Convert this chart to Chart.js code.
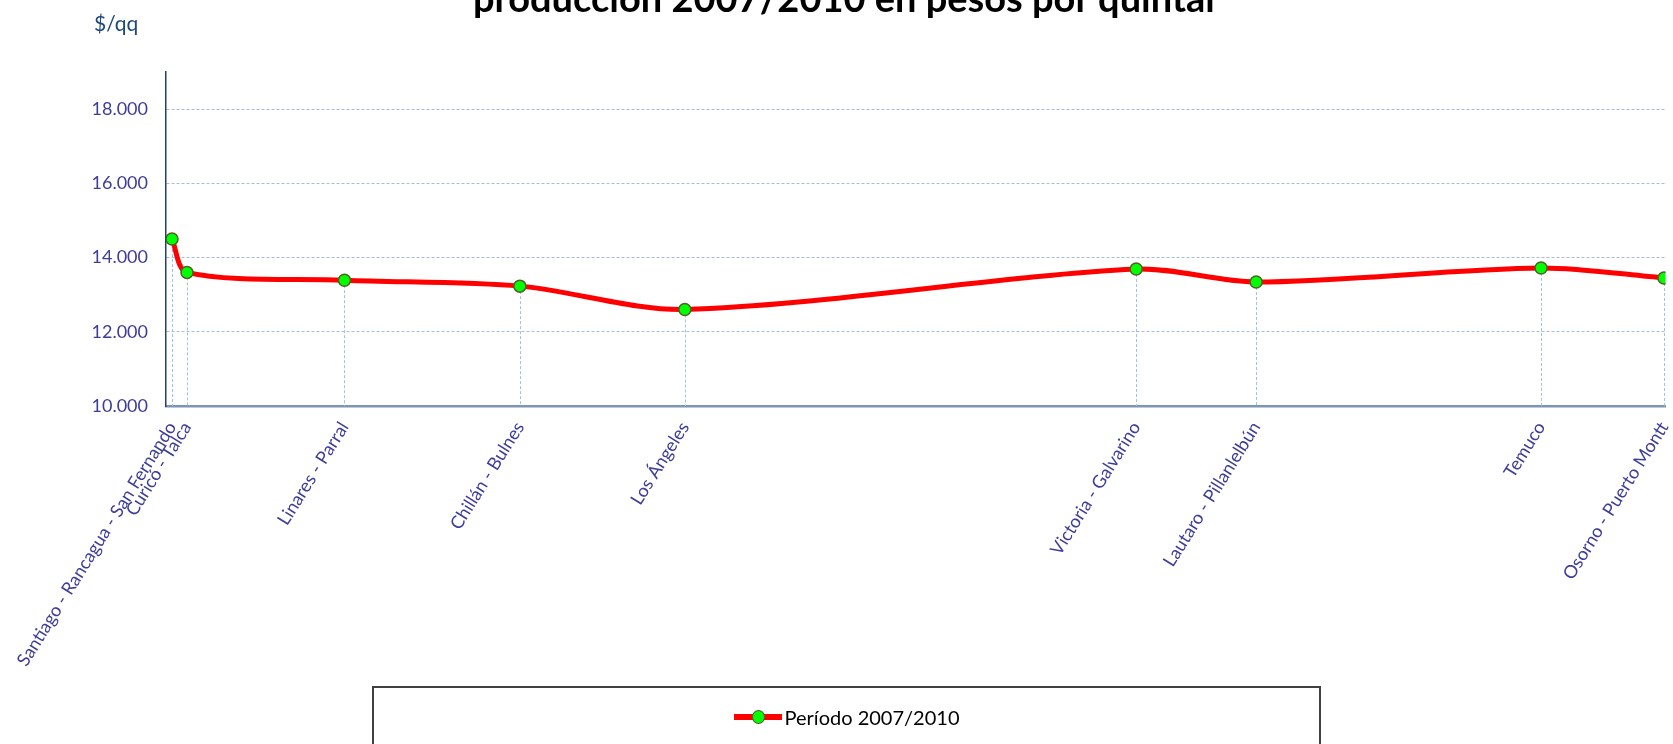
<!DOCTYPE html>
<html>
<head>
<meta charset="utf-8">
<script src="https://cdn.jsdelivr.net/npm/chart.js@4"></script>
<style>
  html, body { margin: 0; padding: 0; background: #fff; overflow: hidden; }
  #wrap { position: relative; width: 1673px; height: 744px; }
  #titulo { position: absolute; left: 473px; top: -22px; font: bold 38px Lato, sans-serif; color: #000; white-space: nowrap; line-height: 38px; }
  #unidad { position: absolute; left: 94px; top: 12px; font: 21px Lato, sans-serif; color: #1F497D; line-height: 22px; }
  #leyenda { position: absolute; left: 372px; top: 686px; width: 945px; height: 80px; border: 2px solid #404040; }
  #leyenda .item { position: absolute; left: 0; right: 0; top: 18px; text-align: center; font: 20px Lato, sans-serif; color: #000; line-height: 22px; }
  #leyenda .marca { display: inline-block; position: relative; width: 48px; height: 22px; vertical-align: top; margin-right: 3px; }
  #leyenda .marca::before { content: ""; position: absolute; left: 0; right: 0; top: 8px; height: 6px; background: #FF0000; }
  #leyenda .marca::after { content: ""; position: absolute; left: 18px; top: 4px; width: 11px; height: 12px; border-radius: 50%; background: #00FF00; border: 1.5px solid #4F6228; }
</style>
</head>
<body>
<div id="wrap">
  <canvas id="grafico" width="1673" height="744"></canvas>
  <div id="titulo">producción 2007/2010 en pesos por quintal</div>
  <div id="unidad">$/qq</div>
  <div id="leyenda"><div class="item"><span class="marca"></span>Período 2007/2010</div></div>
</div>
<script>
// Zonas productoras (eje x)
const zonas = [
    "Santiago - Rancagua - San Fernando",
    "Curicó - Talca",
    "Linares - Parral",
    "Chillán - Bulnes",
    "Los Ángeles",
    "Victoria - Galvarino",
    "Lautaro - Pillanlelbún",
    "Temuco",
    "Osorno - Puerto Montt"
];
// posición de cada zona sobre el eje (escala 0 - 1000)
const posicionEje = [4, 14, 119, 236, 346, 647, 727, 917, 999];
// costo de producción en $/qq
const costos = [14500, 13600, 13390, 13230, 12600, 13690, 13340, 13720, 13450];
const etiquetaSerie = "Período 2007/2010";
const ticksY = [10000, 12000, 14000, 16000, 18000];

const colorTexto = '#3D3D9A';

function formatoMiles(v) {
    return String(v).replace(/\B(?=(\d{3})+(?!\d))/g, '.');
}

// lineas verticales punteadas desde cada punto al eje
const lineasCaida = {
    id: 'lineasCaida',
    beforeDatasetsDraw(chart) {
        const ctx = chart.ctx;
        const fondo = chart.chartArea.bottom;
        const meta = chart.getDatasetMeta(0);
        ctx.save();
        ctx.strokeStyle = '#9DC3E6';
        ctx.lineWidth = 1;
        ctx.setLineDash([3, 2]);
        meta.data.forEach(p => {
            ctx.beginPath();
            ctx.moveTo(Math.round(p.x) + 0.5, p.y);
            ctx.lineTo(Math.round(p.x) + 0.5, fondo);
            ctx.stroke();
        });
        ctx.restore();
    }
};

const ctx = document.getElementById('grafico').getContext('2d');
new Chart(ctx, {
    type: 'line',
    data: {
        datasets: [{
            label: etiquetaSerie,
            data: posicionEje.map((x, i) => ({ x: x, y: costos[i] })),
            borderColor: '#FF0000',
            borderWidth: 5,
            tension: 0.3,
            pointRadius: 6,
            pointBackgroundColor: '#00FF00',
            pointBorderColor: '#4F6228',
            pointBorderWidth: 1.5,
            fill: false
        }]
    },
    plugins: [lineasCaida],
    options: {
        responsive: false,
        animation: false,
        layout: { padding: { top: 72, right: 6, left: 0, bottom: 0 } },
        plugins: {
            legend: { display: false },
            title: { display: false },
            tooltip: { enabled: false }
        },
        scales: {
            x: {
                type: 'linear',
                min: 0,
                max: 1000,
                grid: { display: false },
                border: { display: true, color: '#7F95B5', width: 2.5 },
                afterBuildTicks(scale) {
                    scale.ticks = posicionEje.map(v => ({ value: v }));
                },
                afterFit(scale) {
                    scale.height = 744 - 406;
                    scale.paddingLeft = 0;
                    scale.paddingRight = 0;
                },
                ticks: {
                    autoSkip: false,
                    maxRotation: 58,
                    minRotation: 58,
                    padding: 4,
                    color: colorTexto,
                    font: { family: 'Lato', size: 18 },
                    callback: function(value) {
                        const i = posicionEje.indexOf(value);
                        return i >= 0 ? zonas[i] : '';
                    }
                }
            },
            y: {
                min: 10000,
                max: 19000,
                afterBuildTicks(scale) {
                    scale.ticks = ticksY.map(v => ({ value: v }));
                },
                afterFit(scale) {
                    scale.width = 166;
                    scale.paddingTop = 0;
                    scale.paddingBottom = 0;
                },
                grid: {
                    color: '#A9BCDD',
                    lineWidth: 1,
                    drawTicks: false
                },
                border: { display: true, color: '#243F72', width: 1.5, dash: [3, 2] },
                ticks: {
                    padding: 18,
                    color: colorTexto,
                    font: { family: 'Lato', size: 18 },
                    callback: v => formatoMiles(v)
                }
            }
        }
    }
});
</script>
</body>
</html>
